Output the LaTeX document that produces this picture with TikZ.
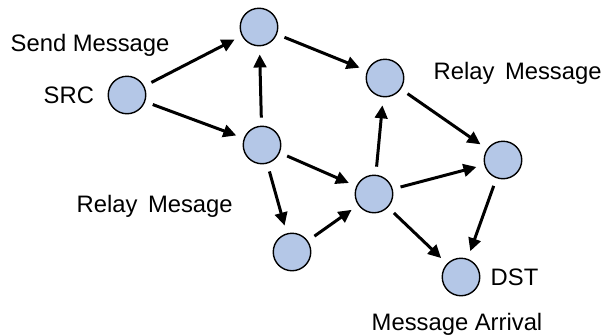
\documentclass[tikz,border=0pt]{standalone}
\usepackage{fontspec}
\setmainfont{Liberation Sans}
\usetikzlibrary{arrows.meta}
\definecolor{nodefill}{HTML}{B4C7E7}
\begin{document}
\begin{tikzpicture}[x=1pt,y=-1pt,
  netnode/.style={circle,draw=black,line width=1.4pt,fill=nodefill,minimum size=37.5pt,inner sep=0pt},
  conn/.style={line width=3pt,-{Triangle[length=13pt,width=12.5pt]},shorten >=8pt,shorten <=8pt},
  lbl/.style={font=\fontsize{23.8}{27}\selectfont,inner sep=0pt,anchor=base west}]
\useasboundingbox (0,0) rectangle (603,335);
\node[netnode] (src) at (127,95) {};
\node[netnode] (top) at (259,27) {};
\node[netnode] (a) at (385,78) {};
\node[netnode] (mid) at (262,145) {};
\node[netnode] (cen) at (374,194) {};
\node[netnode] (right) at (503,160) {};
\node[netnode] (bl) at (292,252) {};
\node[netnode] (dst) at (461,277) {};
\draw[conn] (src) -- (top);
\draw[conn] (src) -- (mid);
\draw[conn] (mid) -- (top);
\draw[conn] (top) -- (a);
\draw[conn] (mid) -- (cen);
\draw[conn] (mid) -- (bl);
\draw[conn] (bl) -- (cen);
\draw[conn] (cen) -- (a);
\draw[conn] (cen) -- (right);
\draw[conn] (a) -- (right);
\draw[conn] (cen) -- (dst);
\draw[conn] (right) -- (dst);
\node[lbl] (t1) at (10.5,51) {Send Message};
\node[lbl] (t2) at (43.5,103) {SRC};
\node[lbl] (t3) at (76.5,212) {Relay\hspace{10.5pt}Mesage};
\node[lbl] (t4) at (433.5,79) {Relay\hspace{10.5pt}Message};
\node[lbl] (t5) at (490.5,285) {DST};
\node[lbl] (t6) at (371.5,330) {Message Arrival};
\end{tikzpicture}
\end{document}
